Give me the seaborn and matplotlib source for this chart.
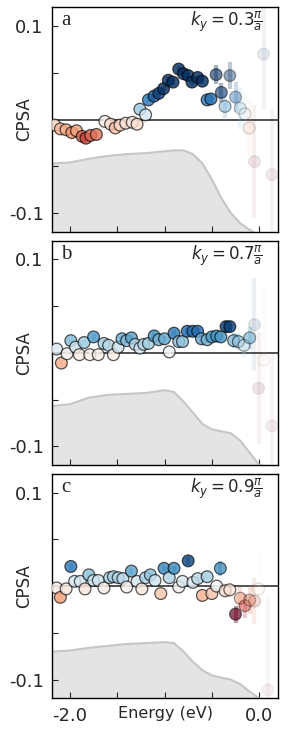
import seaborn as sns
import matplotlib.pyplot as plt
import pandas as pd
import numpy as np

# panel a, k_y = 0.3 pi/a
energy_a = [-2.16, -2.10, -2.04, -1.98, -1.93, -1.87, -1.83, -1.78, -1.72, -1.63, -1.57,
            -1.52, -1.47, -1.41, -1.34, -1.29, -1.26, -1.20, -1.17, -1.11, -1.06, -1.01,
            -0.96, -0.91, -0.85, -0.80, -0.75, -0.71, -0.65, -0.60, -0.55, -0.51, -0.455,
            -0.40, -0.36, -0.31, -0.25, -0.20, -0.15, -0.106, -0.05, 0.046, 0.134]
cpsa_a = [-0.006, -0.010, -0.011, -0.014, -0.012, -0.018, -0.020, -0.017, -0.016, -0.002, -0.005,
          -0.009, -0.006, -0.004, -0.003, -0.005, 0.011, 0.005, 0.021, 0.025, 0.028, 0.033,
          0.042, 0.040, 0.054, 0.049, 0.047, 0.040, 0.045, 0.041, 0.021, 0.022, 0.048,
          0.029, 0.014, 0.047, 0.024, 0.012, 0.006, -0.009, -0.045, 0.070, -0.059]
err_a = [0.003] * 30 + [0.004, 0.004, 0.010, 0.010, 0.012, 0.014, 0.016, 0.022, 0.025,
                        0.030, 0.060, 0.060, 0.070]

# panel b, k_y = 0.7 pi/a
energy_b = [-2.14, -2.09, -2.03, -1.99, -1.94, -1.90, -1.85, -1.79, -1.75, -1.70, -1.64,
            -1.59, -1.54, -1.49, -1.45, -1.40, -1.35, -1.31, -1.26, -1.22, -1.17, -1.11,
            -1.06, -1.00, -0.95, -0.90, -0.85, -0.81, -0.76, -0.70, -0.65, -0.61, -0.55,
            -0.50, -0.45, -0.405, -0.35, -0.31, -0.27, -0.22, -0.16, -0.10, -0.05, -0.007,
            0.046, 0.134]
cpsa_b = [0.004, -0.011, -0.001, 0.013, 0.006, -0.002, 0.011, -0.002, 0.017, -0.002, 0.010,
          0.008, -0.002, 0.006, 0.015, 0.013, 0.016, 0.009, 0.005, 0.009, 0.010, 0.018,
          0.014, 0.015, 0.001, 0.021, 0.012, 0.012, 0.023, 0.023, 0.023, 0.015, 0.014,
          0.017, 0.018, 0.017, 0.028, 0.028, 0.013, 0.012, 0.008, 0.016, 0.030, -0.038,
          -0.008, -0.078]
err_b = [0.003] * 28 + [0.004] * 8 + [0.006, 0.006, 0.008, 0.009, 0.012, 0.012, 0.05,
                                      0.06, 0.08, 0.08]

# panel c, k_y = 0.9 pi/a
energy_c = [-2.14, -2.10, -2.04, -1.99, -1.95, -1.89, -1.84, -1.80, -1.75, -1.70, -1.64,
            -1.58, -1.54, -1.49, -1.44, -1.40, -1.35, -1.29, -1.24, -1.20, -1.15, -1.10,
            -1.04, -1.005, -0.95, -0.90, -0.85, -0.81, -0.75, -0.70, -0.65, -0.60, -0.55,
            -0.50, -0.45, -0.41, -0.36, -0.31, -0.25, -0.20, -0.15, -0.10, -0.05, -0.007,
            0.092]
cpsa_c = [-0.002, -0.012, -0.003, 0.021, 0.005, 0.005, -0.003, 0.012, 0.006, 0.006, -0.002,
          0.009, 0.010, 0.009, 0.008, -0.001, 0.016, 0.005, -0.003, 0.009, 0.012, 0.006,
          -0.008, 0.019, 0.009, 0.019, -0.001, 0.005, 0.027, 0.004, 0.008, -0.010, 0.010,
          -0.008, 0.000, 0.019, -0.005, -0.004, -0.030, -0.013, -0.021, -0.015, -0.016, -0.003,
          -0.111]
err_c = [0.003, 0.005, 0.003, 0.004] + [0.003] * 24 + [0.004, 0.003, 0.003, 0.006, 0.006,
                                                      0.006, 0.006, 0.008, 0.008, 0.008,
                                                      0.009, 0.012, 0.013, 0.015, 0.025,
                                                      0.040, 0.100]

# grey density-of-states backdrop
dos_energy = [-2.19, -2.0, -1.8, -1.6, -1.4, -1.2, -1.0, -0.9, -0.8, -0.7, -0.6, -0.5,
              -0.4, -0.3, -0.2, -0.1, 0.0, 0.2]
dos_a = [-0.047, -0.046, -0.042, -0.039, -0.037, -0.036, -0.034, -0.033, -0.033, -0.037,
         -0.047, -0.064, -0.084, -0.100, -0.111, -0.118, -0.125, -0.125]
dos_b = [-0.057, -0.055, -0.048, -0.045, -0.044, -0.043, -0.040, -0.042, -0.052, -0.064,
         -0.076, -0.082, -0.084, -0.086, -0.094, -0.107, -0.120, -0.125]
dos_c = [-0.070, -0.069, -0.066, -0.064, -0.062, -0.061, -0.060, -0.061, -0.070, -0.081,
         -0.090, -0.0955, -0.098, -0.100, -0.105, -0.113, -0.120, -0.125]

panels = [
    ('a', r'$k_y = 0.3\frac{\pi}{a}$', energy_a, cpsa_a, err_a, dos_a),
    ('b', r'$k_y = 0.7\frac{\pi}{a}$', energy_b, cpsa_b, err_b, dos_b),
    ('c', r'$k_y = 0.9\frac{\pi}{a}$', energy_c, cpsa_c, err_c, dos_c),
]

sns.set_style('ticks')
plt.rcParams['font.family'] = ['DejaVu Sans']

fig, axes = plt.subplots(3, 1, figsize=(3.0, 7.35), dpi=100, sharex=True)
fig.subplots_adjust(left=0.173, right=0.927, top=0.990, bottom=0.050, hspace=0.04)

cmap = plt.get_cmap('RdBu')
norm = plt.Normalize(-0.03, 0.03)

for ax, (letter, ky, energy, cpsa, err, dos) in zip(axes, panels):
    df = pd.DataFrame({'energy': energy, 'cpsa': cpsa, 'err': err})
    alpha = np.clip(0.006 / df['err'].to_numpy(), 0.05, 0.82)

    ax.fill_between(dos_energy, dos, -0.2, color='#e4e4e4', lw=0, zorder=0)
    sns.lineplot(x=dos_energy, y=dos, color='#c6c6c6', lw=1.5, ax=ax, zorder=1)
    ax.axhline(0, color='#333333', lw=1.2, zorder=2)

    rgba = cmap(norm(df['cpsa'].to_numpy()))
    bars = rgba.copy()
    bars[:, 3] = alpha * 0.6
    ax.vlines(df['energy'], df['cpsa'] - df['err'], df['cpsa'] + df['err'],
              colors=bars, lw=3, zorder=3)

    sns.scatterplot(data=df, x='energy', y='cpsa', hue='cpsa', palette='RdBu',
                    hue_norm=(-0.03, 0.03), s=72, legend=False, ax=ax, zorder=4)
    pts = ax.collections[-1]
    fc = rgba.copy()
    fc[:, 3] = alpha
    ec = np.zeros_like(fc)
    ec[:, 3] = alpha * 0.8
    pts.set_facecolors(fc)
    pts.set_edgecolors(ec)
    pts.set_linewidth(0.9)

    ax.set_xlim(-2.19, 0.2)
    ax.set_ylim(-0.12, 0.12)
    ax.set_xticks([-2.0, -1.5, -1.0, -0.5, 0.0], ['-2.0', '', '', '', '0.0'])
    ax.set_yticks([0.1, 0.05, 0.0, -0.05, -0.1], ['0.1', '', '', '', '-0.1'])
    ax.tick_params(direction='in', length=4, width=0.8, labelsize=13, pad=6)
    for sp in ax.spines.values():
        sp.set_color('black')
        sp.set_linewidth(1.0)

    ax.set_xlabel('')
    ax.set_ylabel('CPSA', fontsize=12, va='center')
    ax.yaxis.set_label_coords(-0.124, 0.5)

    ax.text(0.04, 0.92, letter, transform=ax.transAxes, ha='left', va='baseline',
            fontsize=15, family='Liberation Serif')
    ax.text(0.934, 0.915, ky, transform=ax.transAxes, ha='right', va='baseline',
            fontsize=12)

axes[-1].set_xlabel('Energy (eV)', fontsize=11.5, va='top')
axes[-1].xaxis.set_label_coords(0.5, -0.035)

fig.savefig('out.png', dpi=100)
